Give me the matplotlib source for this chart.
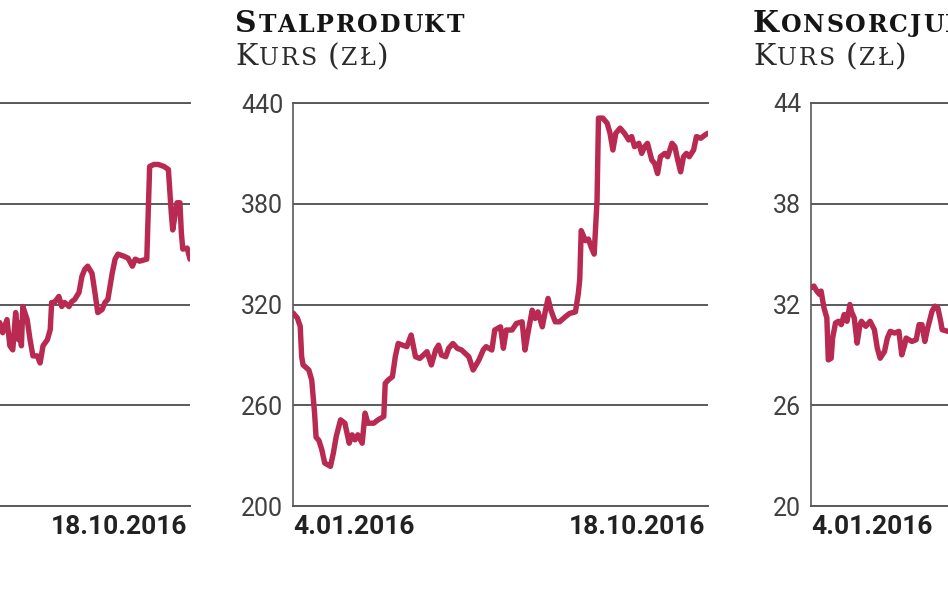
import matplotlib
matplotlib.use("Agg")
import matplotlib.pyplot as plt

W, H = 948, 593

# ---------------- data ----------------
# x values: calendar days since 4.01.2016 (18.10.2016 = day 288)
left_days = [156, 158, 161, 163, 165, 167, 169, 170, 171, 172, 175, 177, 179, 182, 184, 186,
             189, 191, 192, 194, 197, 199, 201, 204, 206, 208, 211, 213, 215, 217, 220, 222,
             224, 227, 229, 231, 234, 236, 238, 242, 245, 248, 250, 253, 258, 260, 263, 266,
             270, 273, 275, 276, 279, 281, 282, 283, 286, 288]
left_vals = [38.2, 37.2, 38.5, 35.9, 35.5, 39.2, 36.5, 38.2, 35.9, 39.8, 38.5, 36.5, 34.9, 34.9,
             34.2, 35.9, 36.5, 37.5, 40.2, 40.2, 40.8, 39.8, 40.2, 39.8, 40.3, 40.5, 41.2, 42.8,
             43.5, 43.8, 43.1, 41.2, 39.2, 39.5, 40.2, 40.5, 43.1, 44.5, 45.0, 44.8, 44.6, 43.8,
             44.5, 44.3, 44.5, 53.7, 53.9, 53.9, 53.7, 53.4, 49.1, 47.4, 50.1, 50.1, 47.1, 45.5,
             45.6, 44.5]

stal_days = [0, 3, 5, 6, 7, 11, 13, 15, 16, 18, 20, 22, 26, 28, 30, 33, 36, 39, 41, 43, 45, 48,
             50, 52, 56, 59, 63, 64, 66, 69, 71, 73, 76, 79, 82, 85, 88, 93, 96, 99, 101, 103,
             106, 108, 111, 114, 117, 122, 125, 129, 132, 134, 138, 140, 144, 146, 148, 152, 155,
             159, 161, 163, 166, 168, 170, 173, 175, 177, 179, 182, 185, 189, 192, 196, 198, 199,
             200, 203, 205, 207, 209, 211, 212, 215, 218, 220, 222, 224, 227, 230, 233, 235, 237,
             240, 242, 244, 246, 249, 251, 253, 255, 258, 260, 263, 265, 267, 269, 271, 273, 275,
             278, 280, 283, 286, 288]
stal_vals = [315, 312, 307, 289, 284, 281, 275, 255, 241, 239, 233.5, 225.6, 223.6, 231.5, 241.4,
             251.3, 249.3, 237.4, 242.4, 239.4, 242.4, 237.4, 255.3, 249.3, 249.3, 251.3, 253.3,
             273, 275, 277, 289, 296.8, 295.8, 294.9, 301.8, 288.9, 287.9, 291.9, 284, 292.9,
             295.8, 289.9, 288.9, 293.9, 296.8, 293.9, 292.9, 288.9, 281, 286.9, 292.9, 294.9,
             292.9, 304.8, 306.7, 293.9, 304.8, 304.8, 308.7, 309.7, 292.9, 302.8, 316.6, 311.7,
             315.6, 306.7, 315.6, 323.6, 316.6, 309.7, 309.7, 312.7, 314.7, 315.6, 326.5, 335,
             364, 358, 359, 354, 350, 382, 431, 431, 428, 422, 412, 422, 425, 422, 418, 420, 414,
             416, 410, 414, 416, 406, 404, 398, 408, 410, 408, 416, 414, 406, 399, 408, 410, 408,
             412, 420, 419, 421, 422]

kons_days = [0, 2, 4, 6, 7, 9, 11, 12, 14, 15, 17, 19, 21, 23, 25, 27, 28, 30, 32, 34, 35, 38,
             41, 44, 46, 48, 51, 53, 55, 58, 61, 63, 65, 66, 70, 73, 75, 77, 79, 81, 84, 86, 88,
             90, 91, 95]
kons_vals = [33.0, 33.1, 32.8, 32.6, 32.8, 31.8, 31.2, 28.7, 28.8, 30.0, 30.9, 31.0, 30.8, 31.4,
             31.0, 32.0, 31.6, 31.2, 29.7, 30.8, 31.0, 30.7, 31.0, 30.5, 29.4, 28.8, 29.2, 30.0,
             30.4, 30.3, 30.4, 29.0, 29.6, 30.0, 29.8, 29.9, 30.8, 30.8, 29.8, 30.6, 31.6, 31.9,
             31.8, 31.0, 30.5, 30.4]

left_ticks = [20, 30, 40, 50, 60]
stal_ticks = [200, 260, 320, 380, 440]
kons_ticks = [20, 26, 32, 38, 44]
date_start = "4.01.2016"
date_end = "18.10.2016"
PERIOD = 288

# ---------------- style ----------------
LINE = "#b82a52"
GRID = "#5a5a5a"
TICK_FONT = ["Roboto", "DejaVu Sans"]
TITLE_FONT = ["DejaVu Serif"]

fig = plt.figure(figsize=(W / 100, H / 100), dpi=100)
fig.patch.set_facecolor("white")

AX_TOP, AX_BOT, AX_W = 103, 506, 415


def make_panel(left_px, days, vals, ticks, show_labels, show_start, show_end):
    ax = fig.add_axes([left_px / W, (H - AX_BOT) / H, AX_W / W, (AX_BOT - AX_TOP) / H])
    ax.set_xlim(0, PERIOD)
    ax.set_ylim(ticks[0], ticks[-1])
    ax.set_yticks(ticks)
    ax.set_xticks([])
    for s in ("top", "bottom", "left"):
        ax.spines[s].set_color(GRID)
        ax.spines[s].set_linewidth(1.4)
    ax.spines["left"].set_linewidth(1.2)
    ax.spines["right"].set_visible(False)
    ax.yaxis.grid(True, color=GRID, linewidth=1.4)
    ax.set_axisbelow(True)
    ax.tick_params(axis="y", length=0, pad=7, labelsize=18, labelcolor="#404040",
                   labelleft=show_labels)
    for lab in ax.get_yticklabels():
        lab.set_family(TICK_FONT)
    ax.plot(days, vals, color=LINE, linewidth=3.9, solid_joinstyle="round",
            solid_capstyle="round", zorder=3)
    if show_start:
        ax.text(0.0, -0.052, date_start, transform=ax.transAxes, ha="left", va="center",
                fontsize=19, fontweight="bold", color="#222222", family=TICK_FONT)
    if show_end:
        ax.text(0.993, -0.052, date_end, transform=ax.transAxes, ha="right", va="center",
                fontsize=19, fontweight="bold", color="#222222", family=TICK_FONT)
    return ax


make_panel(190 - AX_W, left_days, left_vals, left_ticks, False, False, True)
make_panel(293, stal_days, stal_vals, stal_ticks, True, True, True)
make_panel(811, kons_days, kons_vals, kons_ticks, True, True, False)

renderer = fig.canvas.get_renderer()
BIG, SMALL = 21.5, 17


def small_caps(x_px, base_px, segments, weight, color, spacing):
    x = x_px
    for txt, big in segments:
        for ch in txt:
            if x >= W:
                return
            if ch == " ":
                x += 8
                continue
            t = fig.text(x / W, 1 - base_px / H, ch, fontsize=BIG if big else SMALL,
                         fontweight=weight, family=TITLE_FONT, va="baseline", ha="left",
                         color=color)
            bb = t.get_window_extent(renderer)
            x = bb.x1 + spacing


def title_block(x_px, name_segments):
    small_caps(x_px, 32, name_segments, "bold", "#151515", 1.8)
    small_caps(x_px, 65, [("K", True), ("URS ", False), ("(", True),
                          ("ZŁ", False), (")", True)], "normal", "#2a2a2a", 2.0)


title_block(235, [("S", True), ("TALPRODUKT", False)])
title_block(753, [("K", True), ("ONSORCJUM ", False), ("S", True), ("TALI", False)])

fig.savefig("out.png", dpi=100)
